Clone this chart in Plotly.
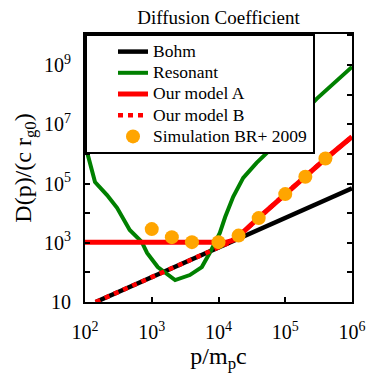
import numpy as np
import plotly.graph_objects as go

# ---- data (log10 values) ----
bohm_logx = [2.16, 6.0]
bohm_logy = [1.0, 4.84]

res_logx = [2.0, 2.03, 2.15, 2.33, 2.48, 2.67, 2.85, 2.93, 3.09, 3.35, 3.57, 3.75,
            3.87, 4.02, 4.10, 4.22, 4.37, 4.57, 4.74, 5.10, 5.47, 6.0]
res_logy = [6.98, 6.07, 5.05, 4.61, 4.18, 3.43, 3.03, 2.66, 2.18, 1.74, 1.91, 2.18,
            2.66, 3.33, 3.87, 4.55, 5.19, 5.70, 6.07, 7.00, 7.86, 8.94]

modA_logx = [2.0, 4.12, 4.2, 4.3, 4.6, 5.0, 5.6, 6.0]
modA_logy = [3.02, 3.02, 3.07, 3.22, 3.84, 4.65, 5.83, 6.58]

modB_logx = [2.16, 4.2, 4.3, 4.6, 5.0, 5.6, 6.0]
modB_logy = [1.0, 3.04, 3.22, 3.84, 4.65, 5.83, 6.58]

sim_p = [1e3, 2e3, 4e3, 1e4, 2e4, 4e4, 1e5, 2e5, 4e5]
sim_D = [2.9e3, 1.55e3, 1.05e3, 1.05e3, 1.75e3, 6.8e3, 4.4e4, 1.7e5, 7.0e5]

series_names = ["Bohm", "Resonant", "Our model A", "Our model B", "Simulation BR+ 2009"]

xtick_exp = [2, 3, 4, 5, 6]
ytick_exp = list(range(1, 11))

def p10(a):
    return [10 ** v for v in a]

FONT = "Liberation Serif, Times New Roman, serif"

def lname(s):
    return '<span style="font-size:17.5px">%s</span>' % s

fig = go.Figure()
fig.add_trace(go.Scatter(x=p10(bohm_logx), y=p10(bohm_logy), mode="lines",
                         line=dict(color="black", width=4.5), name=lname(series_names[0])))
fig.add_trace(go.Scatter(x=p10(res_logx), y=p10(res_logy), mode="lines",
                         line=dict(color="#008000", width=4), name=lname(series_names[1])))
fig.add_trace(go.Scatter(x=p10(modA_logx), y=p10(modA_logy), mode="lines",
                         line=dict(color="#ff0000", width=5), name=lname(series_names[2])))
fig.add_trace(go.Scatter(x=p10(modB_logx), y=p10(modB_logy), mode="lines",
                         line=dict(color="#ff0000", width=4.5, dash="5px,5px"),
                         name=lname(series_names[3])))
fig.add_trace(go.Scatter(x=sim_p, y=sim_D, mode="markers",
                         marker=dict(color="#ffa500", size=14),
                         name=lname(series_names[4])))

xticktext = ["10<sup>%d</sup>" % e for e in xtick_exp]
yticktext = []
for e in ytick_exp:
    if e == 1:
        yticktext.append("10")
    elif e % 2 == 1:
        yticktext.append("10<sup>%d</sup>" % e)
    else:
        yticktext.append("")

axis_common = dict(type="log", showgrid=False, zeroline=False, showline=True,
                   linecolor="black", linewidth=2, mirror="ticks", ticks="inside",
                   ticklen=5, tickwidth=1.5, tickcolor="black", automargin=False,
                   tickfont=dict(family=FONT, size=20, color="black"))

fig.update_xaxes(range=[2, 6], tickvals=p10(xtick_exp), ticktext=xticktext,
                 ticklabelstandoff=11,
                 title=dict(text="p/m<sub>p</sub>c", font=dict(family=FONT, size=24, color="black"),
                            standoff=5),
                 **axis_common)
fig.update_yaxes(range=[1, 10.05], tickvals=p10(ytick_exp), ticktext=yticktext,
                 ticklabelstandoff=8,
                 title=dict(text="D(p)/(c r<sub>g0</sub>)", font=dict(family=FONT, size=24, color="black"),
                            standoff=6),
                 **axis_common)

fig.update_layout(
    width=366, height=375,
    margin=dict(l=85, r=14, t=34, b=73, autoexpand=False),
    paper_bgcolor="white", plot_bgcolor="white",
    title=dict(text="Diffusion Coefficient", x=0.597, xanchor="center", y=0.955, yanchor="middle",
               font=dict(family=FONT, size=19, color="black")),
    showlegend=True,
    legend=dict(x=0, y=1, xanchor="left", yanchor="top", bgcolor="white",
                bordercolor="black", borderwidth=2, indentation=26,
                font=dict(family=FONT, size=14, color="black"), tracegroupgap=0),
    font=dict(family=FONT, color="black"),
)

fig.write_html("out.html")
